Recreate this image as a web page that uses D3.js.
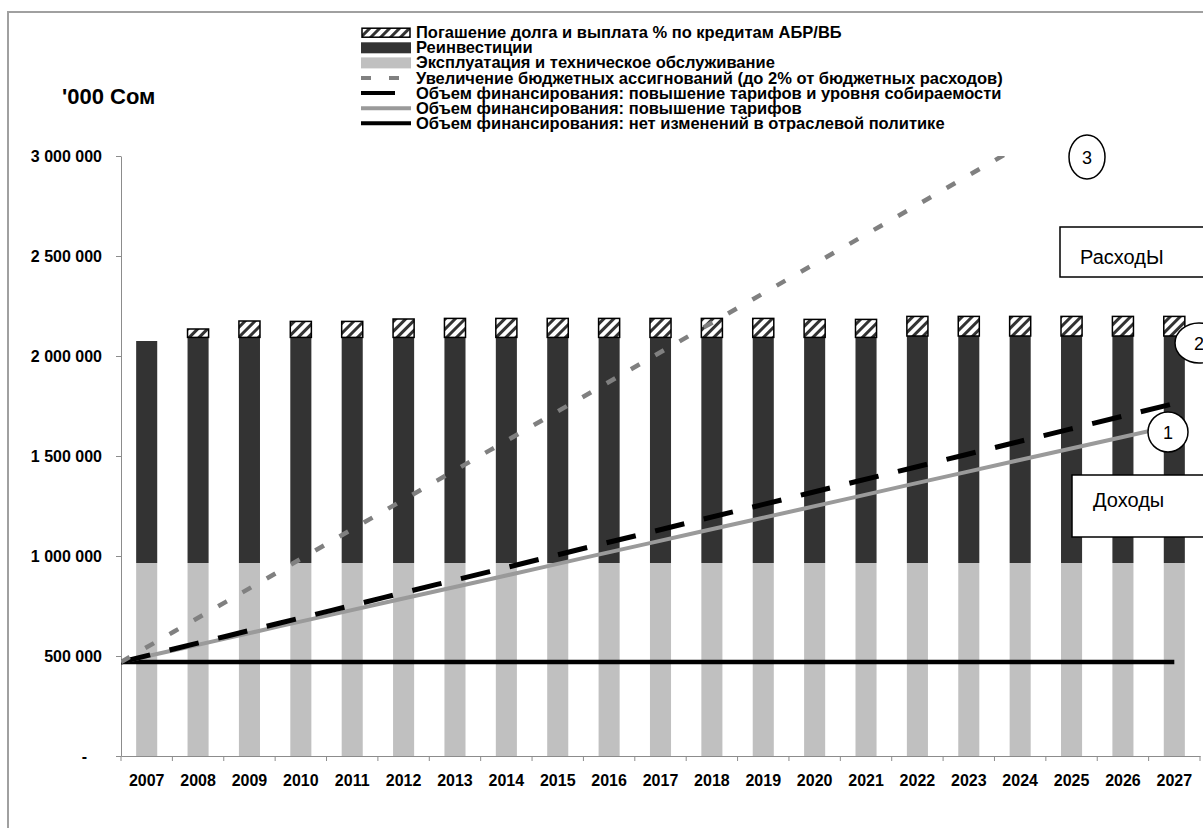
<!DOCTYPE html>
<html>
<head>
<meta charset="utf-8">
<script src="https://d3js.org/d3.v7.min.js"></script>
<style>
  body { margin: 0; background: #fff; }
  text { font-family: 'Liberation Sans', Arial, sans-serif; fill: #000; }
  .axis path, .axis line { stroke: #8c8c8c; stroke-width: 1px; }
  .axis text { font-size: 16px; font-weight: bold; font-family: 'Liberation Sans', Arial, sans-serif; }
  .legend text { font-size: 16.5px; font-weight: bold; }
  .note text { font-size: 20px; }
  .mark text { font-size: 18px; }
</style>
</head>
<body>
<svg id="chart" width="1203" height="828"></svg>
<script>
'use strict';

// categories
var years = ['2007','2008','2009','2010','2011','2012','2013','2014','2015','2016','2017',
             '2018','2019','2020','2021','2022','2023','2024','2025','2026','2027'];

// stacked bars, '000 som
var opsValues = [965000,965000,965000,965000,965000,965000,965000,965000,965000,965000,965000,
                 965000,965000,965000,965000,965000,965000,965000,965000,965000,965000];
var reinvestValues = [1110000,1128000,1128000,1128000,1128000,1128000,1128000,1128000,1128000,1128000,1128000,
                      1128000,1128000,1128000,1128000,1135000,1135000,1135000,1135000,1135000,1135000];
var debtValues = [0,42000,82000,80000,80000,92000,95000,95000,95000,95000,95000,
                  95000,95000,90000,90000,98000,98000,98000,98000,98000,98000];

// financing lines
var budgetValues = [470000,621000,772000,923000,1075000,1226000,1377000,1528000,1679000,1830000,1982000,
                    2133000,2284000,2435000,2586000,2737000,2889000,3040000,3191000,3342000,3493000];
var tariffCollectValues = [470000,535000,599000,664000,728000,793000,858000,922000,987000,1052000,1116000,
                           1181000,1245000,1310000,1375000,1439000,1504000,1569000,1633000,1698000,1762000];
var tariffValues = [470000,529000,588000,648000,707000,766000,825000,884000,943000,1003000,1062000,
                    1121000,1180000,1239000,1298000,1358000,1417000,1476000,1535000,1594000,1653000];
var noChangeValues = [470000,470000,470000,470000,470000,470000,470000,470000,470000,470000,470000,
                      470000,470000,470000,470000,470000,470000,470000,470000,470000,470000];

var yTicks = [0, 500000, 1000000, 1500000, 2000000, 2500000, 3000000];

var legendLabels = [
  'Погашение долга и выплата % по кредитам АБР/ВБ',
  'Реинвестиции',
  'Эксплуатация и техническое обслуживание',
  'Увеличение бюджетных ассигнований (до 2% от бюджетных расходов)',
  'Объем финансирования: повышение тарифов и уровня собираемости',
  'Объем финансирования: повышение тарифов',
  'Объем финансирования: нет изменений в отраслевой политике'
];

var margin = {top: 156, right: 3, bottom: 72, left: 121};
var width = 1203 - margin.left - margin.right;
var height = 828 - margin.top - margin.bottom;

var svg = d3.select('#chart');
var defs = svg.append('defs');

var hatch = defs.append('pattern')
    .attr('id', 'hatch')
    .attr('patternUnits', 'userSpaceOnUse')
    .attr('width', 7).attr('height', 7)
    .attr('patternTransform', 'rotate(45)');
hatch.append('rect').attr('width', 7).attr('height', 7).attr('fill', '#fff');
hatch.append('line').attr('x1', 1.5).attr('y1', 0).attr('x2', 1.5).attr('y2', 7)
    .attr('stroke', '#333').attr('stroke-width', 3);

defs.append('clipPath').attr('id', 'plot-clip')
  .append('rect').attr('width', width).attr('height', height);

// outer frame
svg.append('rect')
    .attr('x', 8).attr('y', 12)
    .attr('width', 1220).attr('height', 840)
    .attr('fill', 'none').attr('stroke', '#a0a0a0').attr('stroke-width', 2);

var g = svg.append('g').attr('transform', 'translate(' + margin.left + ',' + margin.top + ')');

var x = d3.scaleBand().domain(years).range([0, width]).paddingInner(0.59).paddingOuter(0.295);
// lines run from the axis to the centre of the last bar
var xp = d3.scalePoint().domain(years).range([0, x(years[years.length - 1]) + x.bandwidth() / 2]);
var y = d3.scaleLinear().domain([0, 3000000]).range([height, 0]);

var fmt = function(d) { return d === 0 ? '-' : d3.format(',')(d).replace(/,/g, ' '); };

// y axis
var yAxis = g.append('g').attr('class', 'axis')
    .call(d3.axisLeft(y).tickValues(yTicks).tickSize(5).tickSizeOuter(0).tickPadding(14).tickFormat(fmt));
yAxis.selectAll('.tick text').filter(function(d) { return d === 0; }).attr('x', -34);

// x axis
var xAxis = g.append('g').attr('class', 'axis')
    .attr('transform', 'translate(0,' + height + ')')
    .call(d3.axisBottom(x).tickSize(0).tickSizeOuter(0).tickPadding(19));
var bounds = years.map(function(d) { return x(d) - (x.step() - x.bandwidth()) / 2; }).concat([width]);
xAxis.selectAll('.bound').data(bounds).enter().append('line')
    .attr('class', 'bound')
    .attr('x1', function(d) { return d; }).attr('x2', function(d) { return d; })
    .attr('y1', 0).attr('y2', 5);

// bars
var rows = years.map(function(d, i) {
  return {year: d, ops: opsValues[i], reinvest: reinvestValues[i], debt: debtValues[i]};
});
var series = d3.stack().keys(['ops', 'reinvest', 'debt'])(rows);
var fills = {ops: '#c0c0c0', reinvest: '#333333', debt: 'url(#hatch)'};

g.append('g').selectAll('g')
  .data(series)
  .enter().append('g')
    .attr('fill', function(s) { return fills[s.key]; })
  .selectAll('rect')
  .data(function(s) { return s.map(function(p) { p.key = s.key; return p; }); })
  .enter().append('rect')
    .filter(function(p) { return p[1] - p[0] > 0; })
    .attr('x', function(p) { return x(p.data.year); })
    .attr('width', x.bandwidth())
    .attr('y', function(p) { return y(p[1]); })
    .attr('height', function(p) { return y(p[0]) - y(p[1]); })
    .attr('stroke', function(p) { return p.key === 'debt' ? '#000' : 'none'; })
    .attr('stroke-width', 1.5);

// lines
var lines = [
  {values: noChangeValues, color: '#000', w: 4.5, dash: null},
  {values: tariffValues, color: '#9a9a9a', w: 4, dash: null},
  {values: tariffCollectValues, color: '#000', w: 5, dash: '30,20'},
  {values: budgetValues, color: '#808080', w: 4.5, dash: '10,18'}
];
var line = d3.line()
    .x(function(d, i) { return xp(years[i]); })
    .y(function(d) { return y(d); });

g.append('g').attr('clip-path', 'url(#plot-clip)')
  .selectAll('path')
  .data(lines)
  .enter().append('path')
    .attr('d', function(l) { return line(l.values); })
    .attr('fill', 'none')
    .attr('stroke', function(l) { return l.color; })
    .attr('stroke-width', function(l) { return l.w; })
    .attr('stroke-dasharray', function(l) { return l.dash; });

// unit label
svg.append('text')
    .attr('x', 62).attr('y', 104)
    .style('font-size', '22px').style('font-weight', 'bold')
    .text("'000 Сом");

// legend
var legend = svg.append('g').attr('class', 'legend');
var lx = 361;
legendLabels.forEach(function(label, i) {
  var cy = 32.7 + i * 15.1;
  var item = legend.append('g');
  if (i === 0) {
    item.append('rect').attr('x', lx + 1).attr('y', cy - 4.5).attr('width', 48).attr('height', 9)
        .attr('fill', 'url(#hatch)').attr('stroke', '#000').attr('stroke-width', 1.5);
  } else if (i === 1 || i === 2) {
    item.append('rect').attr('x', lx).attr('y', cy - 5.5).attr('width', 50).attr('height', 11)
        .attr('fill', i === 1 ? '#333333' : '#c0c0c0');
  } else {
    var l = lines[6 - i];
    item.append('line').attr('x1', lx).attr('x2', lx + 50).attr('y1', cy).attr('y2', cy)
        .attr('stroke', l.color).attr('stroke-width', 4)
        .attr('stroke-dasharray', i === 4 ? '34,20' : l.dash);
  }
  item.append('text').attr('x', 416).attr('y', cy + 5.5).text(label);
});

// annotations
var notes = svg.append('g').attr('class', 'note');
notes.append('rect').attr('x', 1060).attr('y', 227).attr('width', 170).attr('height', 50)
    .attr('fill', '#fff').attr('stroke', '#000').attr('stroke-width', 1.5);
notes.append('text').attr('x', 1080).attr('y', 264).text('РасходЫ');
notes.append('rect').attr('x', 1072).attr('y', 475).attr('width', 160).attr('height', 62)
    .attr('fill', '#fff').attr('stroke', '#000').attr('stroke-width', 1.5);
notes.append('text').attr('x', 1093).attr('y', 507).text('Доходы');

var marks = svg.append('g').attr('class', 'mark');
[{cx: 1087, cy: 157, rx: 18, ry: 22, t: '3'},
 {cx: 1199, cy: 343, rx: 24, ry: 20, t: '2'},
 {cx: 1168, cy: 432, rx: 20, ry: 20, t: '1'}].forEach(function(m) {
  marks.append('ellipse').attr('cx', m.cx).attr('cy', m.cy).attr('rx', m.rx).attr('ry', m.ry)
      .attr('fill', '#fff').attr('stroke', '#000').attr('stroke-width', 1.5);
  marks.append('text').attr('x', m.cx).attr('y', m.cy + 6.5)
      .attr('text-anchor', 'middle').text(m.t);
});
</script>
</body>
</html>
